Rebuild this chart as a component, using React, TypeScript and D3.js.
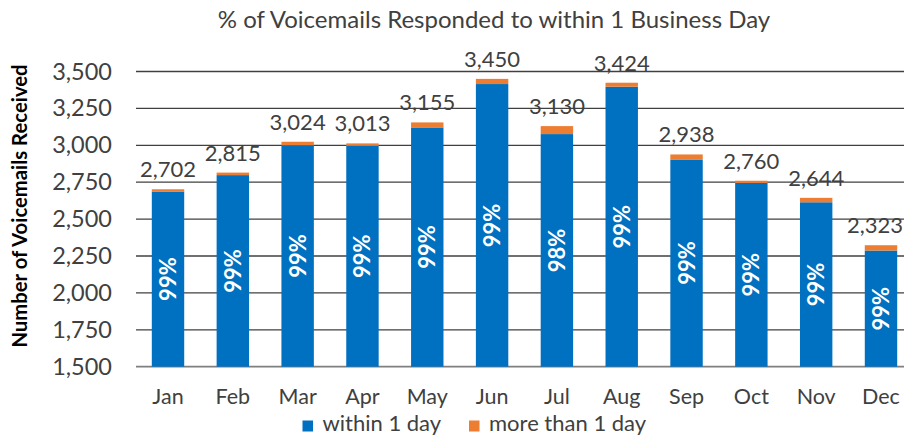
import React, { useEffect, useRef } from 'react';
import * as d3 from 'd3';

const months = ['Jan', 'Feb', 'Mar', 'Apr', 'May', 'Jun', 'Jul', 'Aug', 'Sep', 'Oct', 'Nov', 'Dec'];
const totals = [2702, 2815, 3024, 3013, 3155, 3450, 3130, 3424, 2938, 2760, 2644, 2323];
const moreThanOneDay = [15, 17, 24, 17, 34, 35, 54, 27, 34, 15, 30, 36];
const pctLabels = ['99%', '99%', '99%', '99%', '99%', '99%', '98%', '99%', '99%', '99%', '99%', '99%'];
const yTicks = [1500, 1750, 2000, 2250, 2500, 2750, 3000, 3250, 3500];

const W = 904;
const H = 437;
const FONT = 'Lato, "Open Sans", sans-serif';
const BLUE = '#0070C0';
const ORANGE = '#ED7D31';
const TEXT = '#404040';

export default function App() {
  const ref = useRef<SVGSVGElement>(null);

  useEffect(() => {
    const svg = d3.select(ref.current);
    svg.selectAll('*').remove();

    const x = d3.scaleBand().domain(months).range([135.6, 913.4]).paddingInner(0.5).paddingOuter(0.25);
    const y = d3.scaleLinear().domain([1500, 3500]).range([366.7, 71.5]);

    // title
    svg.append('text')
      .attr('x', 494).attr('y', 28)
      .attr('text-anchor', 'middle')
      .style('font-family', FONT).style('font-size', '24px')
      .attr('fill', TEXT)
      .text('% of Voicemails Responded to within 1 Business Day');

    // gridlines
    svg.append('g').selectAll('line')
      .data(yTicks)
      .join('line')
      .attr('x1', 136).attr('x2', W)
      .attr('y1', d => y(d)).attr('y2', d => y(d))
      .attr('stroke', d => d === 1500 ? '#7f7f7f' : '#404040')
      .attr('stroke-width', d => d === 1500 ? 1.8 : 1.3);

    // y tick labels
    svg.append('g').selectAll('text')
      .data(yTicks)
      .join('text')
      .attr('x', 112).attr('y', d => y(d) + 8)
      .attr('text-anchor', 'end')
      .style('font-family', FONT).style('font-size', '23.5px')
      .attr('fill', TEXT)
      .text(d => d3.format(',')(d));

    // y axis title
    svg.append('text')
      .attr('transform', 'translate(27,206) rotate(-90)')
      .attr('text-anchor', 'middle')
      .style('font-family', FONT).style('font-size', '20.3px').style('font-weight', 'bold')
      .attr('fill', '#000')
      .text('Number of Voicemails Received');

    const bars = svg.append('g');
    months.forEach((m, i) => {
      const within = totals[i] - moreThanOneDay[i];
      const bx = x(m)!;
      const bw = x.bandwidth();
      bars.append('rect')
        .attr('x', bx).attr('width', bw)
        .attr('y', y(within)).attr('height', y(1500) - y(within))
        .attr('fill', BLUE);
      bars.append('rect')
        .attr('x', bx).attr('width', bw)
        .attr('y', y(totals[i])).attr('height', y(within) - y(totals[i]))
        .attr('fill', ORANGE);
      // total label, kept inside the right edge
      const lbl = bars.append('text')
        .attr('x', bx + bw / 2).attr('y', y(totals[i]) - 12)
        .attr('text-anchor', 'middle')
        .style('font-family', FONT).style('font-size', '22px')
        .attr('fill', TEXT)
        .text(d3.format(',')(totals[i]));
      const tw = (lbl.node() as SVGTextElement).getComputedTextLength();
      if (bx + bw / 2 + tw / 2 > W - 1) {
        lbl.attr('text-anchor', 'end').attr('x', W - 1);
      }
      // percent label
      const cy = (y(within) + y(1500)) / 2;
      bars.append('text')
        .attr('transform', `translate(${bx + bw / 2 + 8},${cy}) rotate(-90)`)
        .attr('text-anchor', 'middle')
        .style('font-family', FONT).style('font-size', '22px').style('font-weight', 'bold')
        .attr('fill', '#fff')
        .text(pctLabels[i]);
    });

    // x labels
    svg.append('g').selectAll('text')
      .data(months)
      .join('text')
      .attr('x', d => x(d)! + x.bandwidth() / 2).attr('y', 404)
      .attr('text-anchor', 'middle')
      .style('font-family', FONT).style('font-size', '21.5px')
      .attr('fill', TEXT)
      .text(d => d);

    // legend
    const legend = [
      { label: 'within 1 day', color: BLUE, x: 302.5 },
      { label: 'more than 1 day', color: ORANGE, x: 469 },
    ];
    const lg = svg.append('g');
    legend.forEach(l => {
      lg.append('rect').attr('x', l.x).attr('y', 420.5).attr('width', 10.5).attr('height', 11).attr('fill', l.color);
      lg.append('text')
        .attr('x', l.x + 20).attr('y', 431)
        .style('font-family', FONT).style('font-size', '22px')
        .attr('fill', TEXT)
        .text(l.label);
    });
  }, []);

  return (
    <svg ref={ref} width={W} height={H}
      style={{ position: 'absolute', left: 0, top: 0, background: '#fff', overflow: 'hidden' }} />
  );
}
